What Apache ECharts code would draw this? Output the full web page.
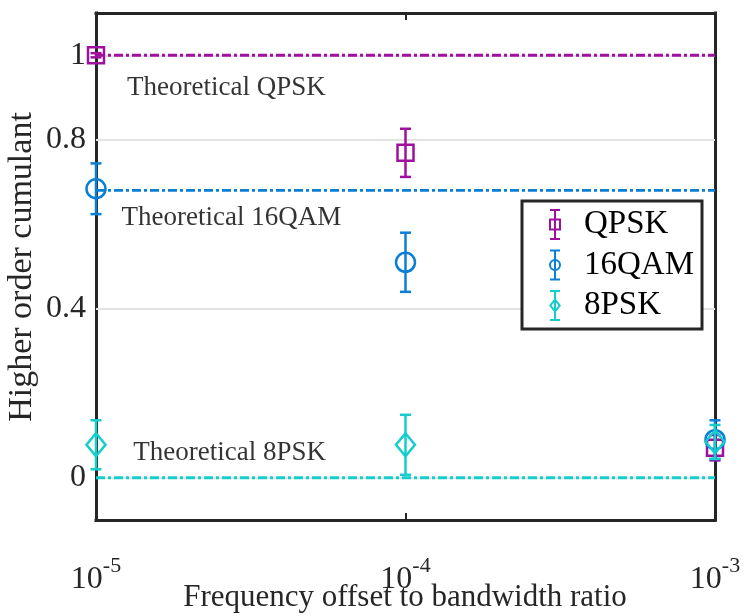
<!DOCTYPE html>
<html><head><meta charset="utf-8">
<script src="https://cdn.jsdelivr.net/npm/echarts@6/dist/echarts.min.js"></script>
<style>html,body{margin:0;padding:0;background:#fff}#c{width:748px;height:616px}</style>
</head><body><div id="c"></div>
<script>
var xValues = [1e-5, 1e-4, 1e-3];
var qpskMean = [1.0, 0.769, 0.071];
var qpskErr = [0.005, 0.057, 0.03];
var qamMean = [0.684, 0.510, 0.090];
var qamErr = [0.060, 0.070, 0.046];
var psk8Mean = [0.078, 0.078, 0.085];
var psk8Err = [0.058, 0.071, 0.040];
var theoryQPSK = 1.0;
var theory16QAM = 0.68;
var theory8PSK = 0.0;
var yTicks = [0, 0.4, 0.8, 1];
var xGrid = [1e-4];
var annotations = [
  [1.26e-5, 0.922, 'Theoretical QPSK'],
  [1.21e-5, 0.616, 'Theoretical 16QAM'],
  [1.32e-5, 0.059, 'Theoretical 8PSK']
];
var names = ['QPSK', '16QAM', '8PSK'];
var colors = ['#A0109F', '#0A7FD6', '#16CDCD'];
var means = [qpskMean, qamMean, psk8Mean];
var errs = [qpskErr, qamErr, psk8Err];
var theories = [theoryQPSK, theory16QAM, theory8PSK];
var symbols = ['rect', 'circle', 'diamond'];
var symbolSizes = [[16, 16], [19, 19], [19, 23]];

var FONT = 'Liberation Serif';
var AXC = '#262626';
var GRIDC = '#e3e3e3';

var iconBar = 'M1,0 H11 V2 H7 V29 H11 V31 H1 V29 H5 V2 H1 Z ';
var icons = [
  'path://' + iconBar + 'M0,9.5 H12 V21.5 H0 Z M2,11.5 V19.5 H10 V11.5 Z',
  'path://' + iconBar + 'M0,15.5 A6,6 0 1 1 12,15.5 A6,6 0 1 1 0,15.5 Z M2,15.5 A4,4 0 1 0 10,15.5 A4,4 0 1 0 2,15.5 Z',
  'path://' + iconBar + 'M6,8 L12,15.5 L6,23 L0,15.5 Z M6,11.2 L2.6,15.5 L6,19.8 L9.4,15.5 Z'
];

var series = [];
// grid lines
series.push({
  type: 'line', data: [], silent: true, z: 1,
  markLine: {
    silent: true, symbol: 'none', label: {show: false}, z: 1, animation: false,
    lineStyle: {color: GRIDC, width: 2, type: 'solid'},
    emphasis: {disabled: true},
    data: yTicks.map(function (v) { return {yAxis: v}; }).concat(xGrid.map(function (v) { return {xAxis: v}; }))
  }
});
// theoretical lines
for (var i = 0; i < 3; i++) {
  series.push({
    type: 'line', silent: true, z: 2, symbol: 'none',
    data: [[xValues[0], theories[i]], [xValues[2], theories[i]]],
    lineStyle: {color: colors[i], width: 2.8, type: [9, 3, 3, 3]}
  });
}
// error bars + markers
for (var k = 0; k < 3; k++) {
  (function (k) {
    var d = xValues.map(function (x, j) { return [x, means[k][j] - errs[k][j], means[k][j] + errs[k][j]]; });
    series.push({
      type: 'custom', name: names[k], z: 3 + k,
      itemStyle: {color: colors[k]},
      data: d,
      renderItem: function (params, api) {
        var lo = api.coord([api.value(0), api.value(1)]);
        var hi = api.coord([api.value(0), api.value(2)]);
        var hw = 5.5;
        var st = {stroke: colors[k], lineWidth: 2.5, fill: null};
        return {type: 'group', children: [
          {type: 'line', shape: {x1: lo[0], y1: lo[1], x2: hi[0], y2: hi[1]}, style: st},
          {type: 'line', shape: {x1: lo[0] - hw, y1: lo[1], x2: lo[0] + hw, y2: lo[1]}, style: st},
          {type: 'line', shape: {x1: hi[0] - hw, y1: hi[1], x2: hi[0] + hw, y2: hi[1]}, style: st}
        ]};
      }
    });
    series.push({
      type: 'scatter', name: names[k], z: 3 + k,
      symbol: symbols[k], symbolSize: symbolSizes[k],
      itemStyle: {color: 'rgba(0,0,0,0)', borderColor: colors[k], borderWidth: 2.5, opacity: 1},
      data: xValues.map(function (x, j) { return [x, means[k][j]]; })
    });
  })(k);
}
// annotations
series.push({
  type: 'scatter', silent: true, z: 10, symbolSize: 0,
  data: annotations.map(function (a) { return {value: [a[0], a[1]], name: a[2]}; }),
  label: {show: true, position: 'right', distance: 0, formatter: '{b}',
    color: '#000', fontFamily: FONT, fontSize: 27}
});

var boxLine = {show: true, onZero: false, lineStyle: {color: AXC, width: 3, cap: 'square'}};
var tick = {show: true, inside: true, length: 7, lineStyle: {color: AXC, width: 2}};

var chart = echarts.init(document.getElementById('c'), null, {renderer: 'canvas'});
chart.setOption({
  animation: false,
  backgroundColor: '#fff',
  grid: {left: 96, right: 33, top: 13, bottom: 96},
  legend: {
    orient: 'vertical', left: 522, top: 201,
    data: names.map(function (n, i) { return {name: n, icon: icons[i], itemStyle: {color: colors[i]}}; }),
    itemWidth: 12, itemHeight: 31, itemGap: 7.5,
    padding: [7, 8, 7, 27],
    borderColor: AXC, borderWidth: 3, backgroundColor: '#fff',
    textStyle: {fontFamily: FONT, fontSize: 33, color: '#000', padding: [0, 0, 0, 18]},
    selectedMode: false
  },
  xAxis: [{
    type: 'log', logBase: 10, min: 1e-5, max: 1e-3,
    axisLine: boxLine,
    axisTick: tick,
    splitLine: {show: false},
    axisLabel: {
      margin: 35,
      formatter: function (v) { return '{b|10}{s|' + Math.round(Math.log10(v)) + '}'; },
      rich: {b: {fontFamily: FONT, fontSize: 32, color: '#262626'},
             s: {fontFamily: FONT, fontSize: 22, color: '#262626', padding: [0, 0, 27, 0]}}
    }
  }, {
    type: 'log', logBase: 10, min: 1e-5, max: 1e-3, position: 'top',
    axisLine: boxLine, axisLabel: {show: false}, splitLine: {show: false},
    axisTick: tick
  }],
  yAxis: [{
    type: 'value', min: -0.1, max: 1.1,
    axisLine: boxLine,
    splitLine: {show: false},
    axisTick: Object.assign({customValues: yTicks}, tick),
    axisLabel: {customValues: yTicks, margin: 10, fontFamily: FONT, fontSize: 32, color: '#262626',
      padding: [6, 0, 0, 0],
      formatter: function (v) { return String(v); }}
  }, {
    type: 'value', min: -0.1, max: 1.1, position: 'right',
    axisLine: boxLine, splitLine: {show: false}, axisLabel: {show: false},
    axisTick: Object.assign({customValues: yTicks}, tick)
  }],
  graphic: [
    {type: 'text', x: 405, y: 598, style: {text: 'Frequency offset to bandwidth ratio', fontFamily: FONT, fontSize: 31, fill: '#262626', align: 'center', verticalAlign: 'middle'}},
    {type: 'text', x: 22, y: 267, rotation: Math.PI / 2, style: {text: 'Higher order cumulant', fontFamily: FONT, fontSize: 34, fill: '#262626', align: 'center', verticalAlign: 'middle'}}
  ],
  series: series
});
</script></body></html>
